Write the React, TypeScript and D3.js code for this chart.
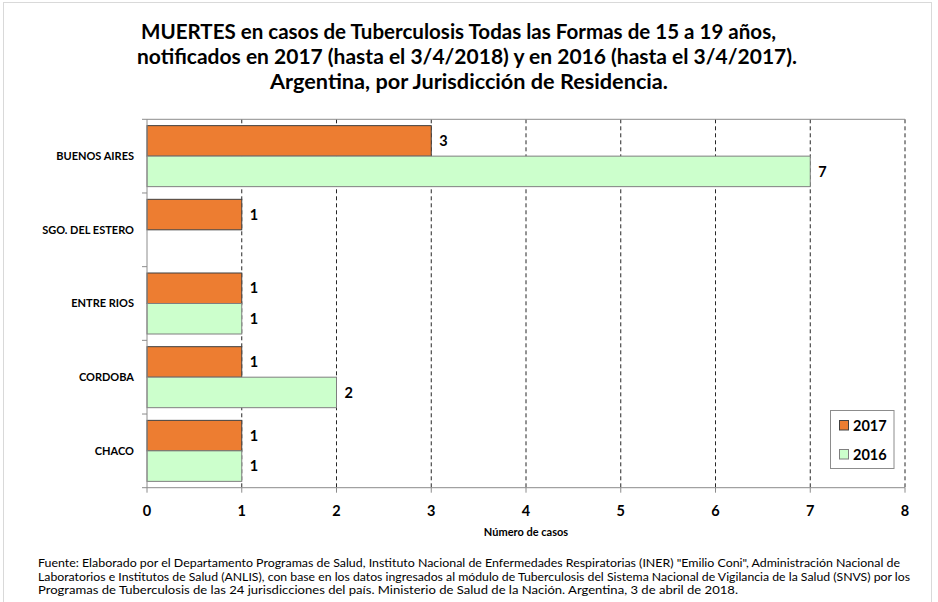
import React from "react";
import * as d3 from "d3";

const categories = ["BUENOS AIRES", "SGO. DEL ESTERO", "ENTRE RIOS", "CORDOBA", "CHACO"];
const values2017: (number | null)[] = [3, 1, 1, 1, 1];
const values2016: (number | null)[] = [7, null, 1, 2, 1];
const seriesNames = ["2017", "2016"];
const xTicks = [0, 1, 2, 3, 4, 5, 6, 7, 8];
const titleLines = [
  "MUERTES en casos de Tuberculosis Todas las Formas de 15 a 19 años,",
  "notificados en 2017 (hasta el 3/4/2018) y en 2016 (hasta el 3/4/2017).",
  "Argentina, por Jurisdicción de Residencia.",
];
const footerLines = [
  "Fuente: Elaborado por el Departamento Programas de Salud, Instituto Nacional de Enfermedades Respiratorias (INER) \"Emilio Coni\", Administración Nacional de",
  "Laboratorios e Institutos de Salud (ANLIS), con base en los datos ingresados al módulo de Tuberculosis del Sistema Nacional de Vigilancia de la Salud (SNVS) por los",
  "Programas de Tuberculosis de las 24 jurisdicciones del país. Ministerio de Salud de la Nación. Argentina,  3 de abril de 2018.",
];
const xAxisTitle = "Número de casos";

const W = 938;
const H = 602;
const FONT = "Lato, 'Open Sans', sans-serif";

export default function App() {
  const left = 147, right = 905, top = 119.3, bottom = 487.7;
  const x = d3.scaleLinear().domain([0, 8]).range([left, right]);
  const y = d3.scaleBand<string>().domain(categories).range([top, bottom]).padding(0);
  const step = y.bandwidth();
  const inner = d3.scaleBand<string>().domain(seriesNames).range([step * 0.086, step * 0.914]).padding(0);
  const colors = ["#ED7D31", "#CCFFCC"];
  const strokes = ["#404040", "#7f7f7f"];
  const series = [values2017, values2016];
  const titleX = [141, 137, 270];
  const titleLen = [635, 660, 398];

  return (
    <svg width={W} height={H} style={{ position: "absolute", left: 0, top: 0, background: "#fff" }} fontFamily={FONT}>
      <rect x={0} y={0} width={W} height={H} fill="#fff" />
      <rect x={3.5} y={2.5} width={928} height={620} fill="none" stroke="#d9d9d9" strokeWidth={1} />

      {titleLines.map((t, i) => (
        <text
          key={i}
          x={titleX[i]}
          y={38.5 + i * 25}
          fontSize={20}
          fontWeight={700}
          fill="#000"
          textLength={titleLen[i]}
          lengthAdjust="spacingAndGlyphs"
        >
          {t}
        </text>
      ))}

      {/* gridlines */}
      {xTicks.slice(1).map((t) => (
        <line key={t} x1={x(t)} x2={x(t)} y1={top} y2={bottom} stroke="#262626" strokeWidth={1} strokeDasharray="4,3" />
      ))}
      <line x1={left} x2={right} y1={top} y2={top} stroke="#8c8c8c" strokeWidth={1} />

      {/* bars */}
      {categories.map((c, ci) =>
        series.map((vals, si) => {
          const v = vals[ci];
          if (v == null) return null;
          const by = (y(c) as number) + (inner(seriesNames[si]) as number);
          const bh = inner.bandwidth();
          return (
            <g key={c + si}>
              <rect x={x(0)} y={by} width={x(v) - x(0)} height={bh} fill={colors[si]} stroke={strokes[si]} strokeWidth={1} />
              <text x={x(v) + 8} y={by + bh / 2} dy="0.36em" fontSize={14.5} fontWeight={700} fill="#000">
                {v}
              </text>
            </g>
          );
        })
      )}

      {/* y axis */}
      <line x1={left} x2={left} y1={top} y2={bottom} stroke="#8c8c8c" strokeWidth={1} />
      {categories.map((c) => (
        <line key={c} x1={left - 5} x2={left} y1={y(c) as number} y2={y(c) as number} stroke="#8c8c8c" />
      ))}
      {categories.map((c) => (
        <text key={c} x={134} y={(y(c) as number) + step / 2} dy="0.36em" textAnchor="end" fontSize={11} fontWeight={700} fill="#000">
          {c}
        </text>
      ))}

      {/* x axis */}
      <line x1={left - 5} x2={right} y1={bottom} y2={bottom} stroke="#8c8c8c" strokeWidth={1} />
      {xTicks.map((t) => (
        <g key={t}>
          <line x1={x(t)} x2={x(t)} y1={bottom} y2={bottom + 5} stroke="#8c8c8c" />
          <text x={x(t)} y={515.5} textAnchor="middle" fontSize={14.5} fontWeight={700} fill="#000">
            {t}
          </text>
        </g>
      ))}
      <text x={(left + right) / 2} y={535.5} textAnchor="middle" fontSize={11} fontWeight={700} fill="#000">
        {xAxisTitle}
      </text>

      {/* legend */}
      <rect x={830.5} y={410.5} width={63.5} height={58} fill="#fff" stroke="#8c8c8c" strokeWidth={1} />
      {seriesNames.map((s, i) => (
        <g key={s}>
          <rect x={839.5} y={420.5 + i * 29} width={9} height={9.5} fill={colors[i]} stroke={strokes[i]} strokeWidth={1} />
          <text x={853} y={425.5 + i * 29} dy="0.36em" fontSize={14.5} fontWeight={700} fill="#000">
            {s}
          </text>
        </g>
      ))}

      {/* footer */}
      {footerLines.map((t, i) => (
        <text
          key={i}
          x={38}
          y={567 + i * 13.5}
          fontSize={11.5}
          fill="#000"
          textLength={[862, 872, 700][i]}
          lengthAdjust="spacingAndGlyphs"
        >
          {t}
        </text>
      ))}
    </svg>
  );
}
